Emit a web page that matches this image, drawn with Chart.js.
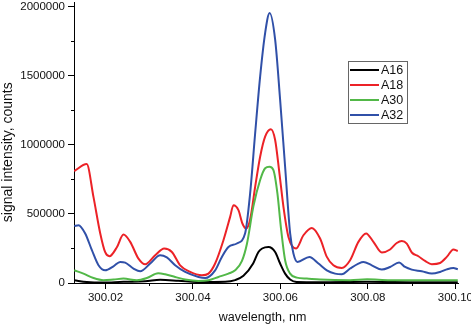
<!DOCTYPE html>
<html>
<head>
<meta charset="utf-8">
<script src="https://cdn.jsdelivr.net/npm/chart.js@4"></script>
<style>
  html, body { margin: 0; padding: 0; background: #fff; overflow: hidden; }
  #wrap { width: 471px; height: 326px; overflow: hidden; }
</style>
</head>
<body>
<div id="wrap"><canvas id="chart" width="480" height="326"></canvas></div>
<script>
// series (wavelength in nm, counts)
const a16Wl = [300.01285, 300.01575, 300.01954, 300.02411, 300.02907, 300.0325, 300.03669, 300.04126, 300.04736, 300.04965,
  300.05154, 300.05376, 300.05497, 300.05582, 300.05726, 300.05879, 300.05993, 300.06107, 300.06222, 300.06375,
  300.06907, 300.07982, 300.09193, 300.10055];
const a16Counts = [20000, 7000, 3000, 9000, 12000, 23000, 16000, 7000, 9000, 21000,
  52000, 141000, 225000, 250000, 261000, 225000, 141000, 68000, 25000, 7000,
  5000, 9000, 5000, 5000];

const a18Wl = [300.01285, 300.0157, 300.01726, 300.01879, 300.01993, 300.02091, 300.0226, 300.02411, 300.02565, 300.02754,
  300.02907, 300.03136, 300.03342, 300.03518, 300.03707, 300.03936, 300.04203, 300.04354, 300.04507, 300.04697,
  300.0485, 300.04926, 300.0504, 300.05131, 300.05216, 300.05307, 300.05422, 300.05536, 300.0565, 300.05781,
  300.05879, 300.05977, 300.06069, 300.06183, 300.06359, 300.06526, 300.06718, 300.06907, 300.07061, 300.07211,
  300.07403, 300.07593, 300.07783, 300.07959, 300.08126, 300.08318, 300.08507, 300.0866, 300.08775, 300.08889,
  300.09003, 300.09154, 300.09307, 300.09461, 300.0965, 300.09803, 300.09954, 300.10055];
const a18Counts = [811000, 862000, 622000, 361000, 223000, 194000, 259000, 351000, 298000, 177000,
  136000, 201000, 250000, 225000, 128000, 80000, 56000, 68000, 141000, 310000,
  479000, 564000, 528000, 431000, 395000, 460000, 697000, 915000, 1060000, 1114000,
  1036000, 795000, 552000, 334000, 250000, 346000, 399000, 322000, 189000, 128000,
  109000, 165000, 298000, 359000, 298000, 221000, 243000, 290000, 305000, 286000,
  221000, 194000, 160000, 136000, 145000, 189000, 243000, 232000];

const a30Wl = [300.01285, 300.01497, 300.01726, 300.01954, 300.02183, 300.02411, 300.02718, 300.02946, 300.03205, 300.03365,
  300.03593, 300.03822, 300.04126, 300.04354, 300.04583, 300.04811, 300.04965, 300.05118, 300.05232, 300.05383,
  300.05536, 300.0565, 300.05749, 300.0584, 300.05931, 300.06009, 300.06107, 300.06222, 300.06375, 300.06603,
  300.06907, 300.07593, 300.07982, 300.08507, 300.09193, 300.10055];
const a30Counts = [92000, 68000, 36000, 20000, 25000, 32000, 20000, 36000, 70000, 63000,
  44000, 25000, 14500, 20000, 44000, 68000, 92000, 158000, 281000, 557000,
  746000, 831000, 842000, 818000, 649000, 407000, 165000, 68000, 39000, 32000,
  25000, 20000, 27000, 20000, 20000, 20000];

const a32Wl = [300.01285, 300.01383, 300.01536, 300.01689, 300.0184, 300.01993, 300.02183, 300.02336, 300.0245, 300.0264,
  300.02793, 300.03022, 300.0325, 300.03403, 300.03593, 300.03822, 300.04126, 300.04279, 300.04507, 300.04661,
  300.04811, 300.05003, 300.05193, 300.05307, 300.05422, 300.05536, 300.0565, 300.05753, 300.05879, 300.05993,
  300.06107, 300.06222, 300.06297, 300.06389, 300.06663, 300.06869, 300.07061, 300.0725, 300.07403, 300.07593,
  300.07783, 300.07897, 300.08089, 300.08318, 300.08507, 300.08713, 300.0885, 300.09003, 300.09232, 300.09461,
  300.0965, 300.09803, 300.09954, 300.10055];
const a32Counts = [412000, 419000, 359000, 238000, 129000, 92000, 121000, 153000, 148000, 105000,
  85000, 141000, 201000, 185000, 129000, 80000, 44000, 36000, 92000, 189000,
  261000, 286000, 361000, 649000, 1085000, 1496000, 1811000, 1956000, 1763000, 1327000,
  842000, 359000, 214000, 153000, 189000, 141000, 92000, 68000, 63000, 105000,
  141000, 153000, 128000, 97000, 116000, 148000, 116000, 97000, 85000, 68000,
  80000, 99000, 109000, 99000];

const seriesNames = ['A16', 'A18', 'A30', 'A32'];
const seriesColors = ['#000000', '#ec2227', '#52b848', '#3050a8'];

// axes: major ticks get a label, the ones in between are minor
const xTicks = [300.02, 300.03, 300.04, 300.05, 300.06, 300.07, 300.08, 300.09, 300.10];
const yTicks = [0, 250000, 500000, 750000, 1000000, 1250000, 1500000, 1750000, 2000000];
const xMin = 300.0128, xMax = 300.1006;
const yMin = 0, yMax = 2036000;

function pts(wl, counts) {
    return wl.map((w, i) => ({x: w, y: counts[i]}));
}

const allData = [pts(a16Wl, a16Counts), pts(a18Wl, a18Counts), pts(a30Wl, a30Counts), pts(a32Wl, a32Counts)];

const isMajorX = v => Math.round(v * 100) % 2 === 0;
const isMajorY = v => Math.round(v / 250000) % 2 === 0;

// short minor ticks on both axes
const minorTicks = {
    id: 'minorTicks',
    afterDraw(chart) {
        const ctx = chart.ctx;
        const sx = chart.scales.x, sy = chart.scales.y;
        ctx.save();
        ctx.strokeStyle = '#000';
        ctx.lineWidth = 1;
        ctx.beginPath();
        sx.ticks.forEach(t => {
            if (!isMajorX(t.value)) {
                const p = Math.round(sx.getPixelForValue(t.value)) + 0.5;
                ctx.moveTo(p, sx.top);
                ctx.lineTo(p, sx.top + 3);
            }
        });
        sy.ticks.forEach(t => {
            if (!isMajorY(t.value)) {
                const p = Math.round(sy.getPixelForValue(t.value)) + 0.5;
                ctx.moveTo(sy.right, p);
                ctx.lineTo(sy.right - 3, p);
            }
        });
        ctx.stroke();
        ctx.restore();
    }
};

// boxed legend inside the plot
const boxLegend = {
    id: 'boxLegend',
    afterDraw(chart) {
        const ctx = chart.ctx;
        const bx = 348, by = 61, bw = 59, bh = 62, row = 15;
        ctx.save();
        ctx.fillStyle = '#fff';
        ctx.fillRect(bx, by, bw, bh);
        ctx.strokeStyle = '#666';
        ctx.lineWidth = 1;
        ctx.strokeRect(bx + 0.5, by + 0.5, bw, bh);
        ctx.font = '12.5px "Liberation Sans", Arial, sans-serif';
        ctx.textBaseline = 'middle';
        chart.data.datasets.forEach((ds, i) => {
            const cy = by + 9 + i * row;
            ctx.strokeStyle = ds.borderColor;
            ctx.lineWidth = 2;
            ctx.beginPath();
            ctx.moveTo(bx + 2, cy);
            ctx.lineTo(bx + 31, cy);
            ctx.stroke();
            ctx.fillStyle = '#111';
            ctx.fillText(ds.label, bx + 33, cy + 0.5);
        });
        ctx.restore();
    }
};

new Chart(document.getElementById('chart'), {
    type: 'line',
    data: {
        datasets: allData.map((d, i) => ({
            label: seriesNames[i],
            data: d,
            borderColor: seriesColors[i],
            borderWidth: 2,
            pointRadius: 0,
            fill: false,
            cubicInterpolationMode: 'monotone',
            order: 4 - i
        }))
    },
    options: {
        responsive: false,
        animation: false,
        devicePixelRatio: 1,
        layout: { autoPadding: false, padding: { left: 0, top: 2, right: 22, bottom: 0 } },
        plugins: { legend: { display: false }, tooltip: { enabled: false } },
        scales: {
            x: {
                type: 'linear',
                min: xMin,
                max: xMax,
                afterBuildTicks: s => { s.ticks = xTicks.map(v => ({value: v})); },
                afterFit: s => { s.height = 43; s.paddingLeft = 0; s.paddingRight = 0; },
                border: { color: '#000', width: 1 },
                grid: {
                    drawOnChartArea: false,
                    tickLength: 6,
                    tickColor: c => (c.tick && isMajorX(c.tick.value)) ? '#000' : 'rgba(0,0,0,0)'
                },
                ticks: {
                    autoSkip: false,
                    maxRotation: 0,
                    padding: 2,
                    color: '#111',
                    font: { family: '"Liberation Sans", Arial, sans-serif', size: 11.5 },
                    callback: v => isMajorX(v) ? v.toFixed(2) : ''
                },
                title: {
                    display: true,
                    text: 'wavelength, nm  ',
                    color: '#111',
                    padding: { top: 0, bottom: 1 },
                    font: { family: '"Liberation Sans", Arial, sans-serif', size: 12.5 }
                }
            },
            y: {
                min: yMin,
                max: yMax,
                afterBuildTicks: s => { s.ticks = yTicks.map(v => ({value: v})); },
                afterFit: s => { s.width = 74; s.paddingTop = 0; s.paddingBottom = 0; },
                border: { color: '#000', width: 1 },
                grid: {
                    drawOnChartArea: false,
                    tickLength: 6,
                    tickColor: c => (c.tick && isMajorY(c.tick.value)) ? '#000' : 'rgba(0,0,0,0)'
                },
                ticks: {
                    autoSkip: false,
                    padding: 3,
                    color: '#111',
                    font: { family: '"Liberation Sans", Arial, sans-serif', size: 11.5 },
                    callback: v => isMajorY(v) ? String(v) : ''
                },
                title: {
                    display: true,
                    text: 'signal intensity, counts     ',
                    color: '#111',
                    padding: { top: 0, bottom: 0 },
                    font: { family: '"Liberation Sans", Arial, sans-serif', size: 14 }
                }
            }
        }
    },
    plugins: [minorTicks, boxLegend]
});
</script>
</body>
</html>
